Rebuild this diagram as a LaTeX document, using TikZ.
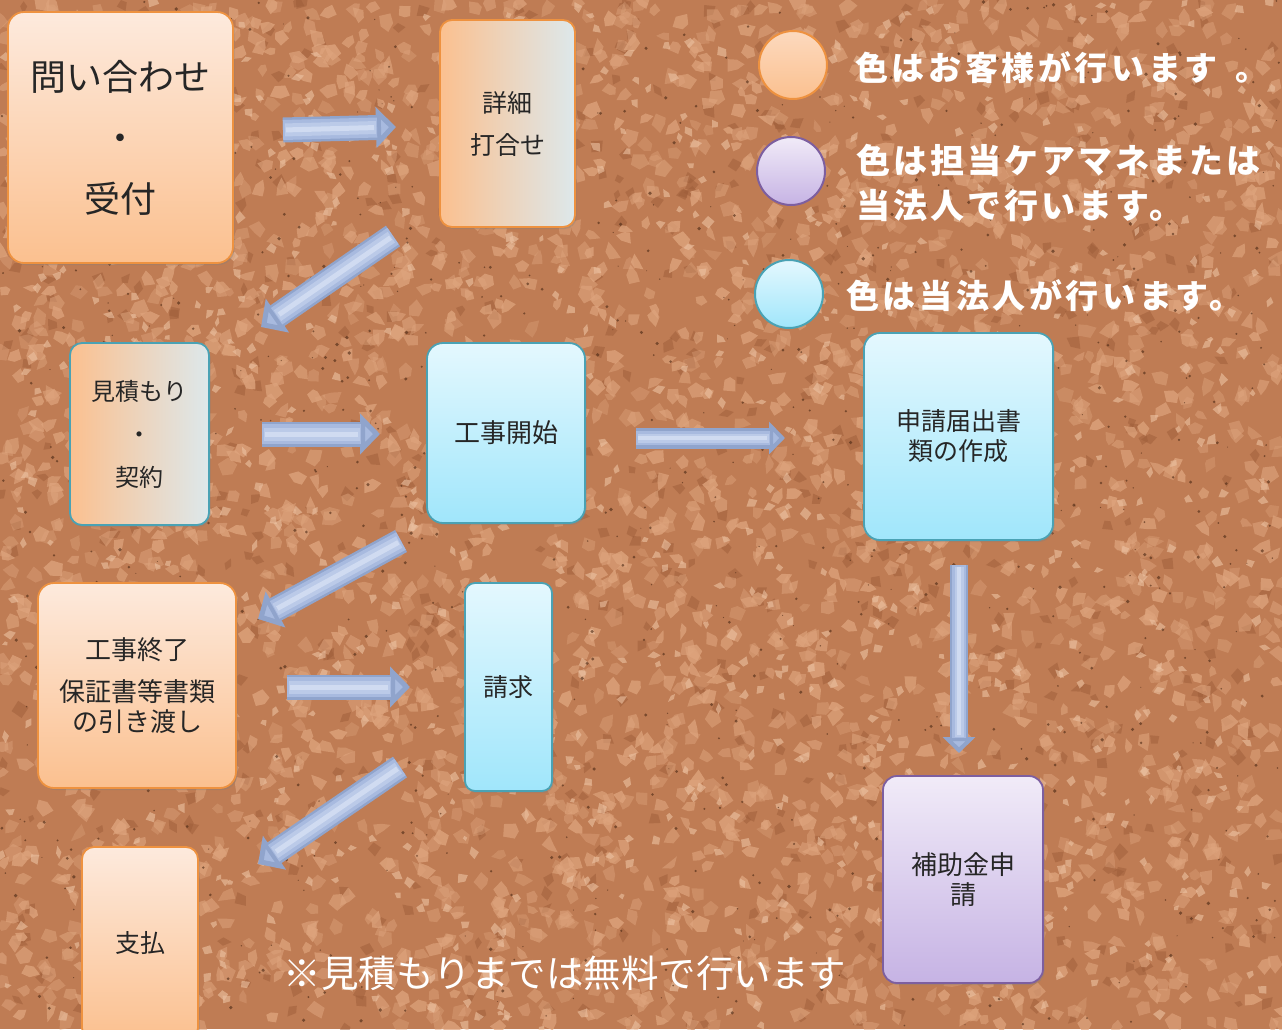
\documentclass[tikz,border=0pt]{standalone}
\usepackage{fontspec}
\newfontfamily\jp{Noto Sans CJK JP}
\usetikzlibrary{arrows.meta,shadows}
\definecolor{cork}{HTML}{BF7C54}
\definecolor{corkdk}{HTML}{9E5E3A}
\definecolor{corklt}{HTML}{DEA47D}
\definecolor{corkvl}{HTML}{ECC2A2}
\definecolor{speck}{HTML}{4A2814}
\definecolor{otop}{HTML}{FDEADD}
\definecolor{obot}{HTML}{FBC08F}
\definecolor{obord}{HTML}{EE9240}
\definecolor{ctop}{HTML}{E4F8FE}
\definecolor{cbot}{HTML}{A0E6FB}
\definecolor{cbord}{HTML}{4AA2B4}
\definecolor{ptop}{HTML}{F1EBF8}
\definecolor{pbot}{HTML}{C6B3E4}
\definecolor{pbord}{HTML}{7D5FA0}
\definecolor{mixr}{HTML}{DDE8EB}
\definecolor{arrdark}{HTML}{90A4CC}
\definecolor{arrmid}{HTML}{A8BADF}
\definecolor{arrmid2}{HTML}{BBCAE8}
\definecolor{arrlight}{HTML}{D0DBF1}
\tikzset{
  box/.style={rounded corners=16pt, line width=1.8pt, inner sep=0pt, align=center, text=black!85,
    drop shadow={shadow xshift=1.5pt, shadow yshift=-2pt, opacity=.35}},
  orangebox/.style={box, draw=obord, top color=otop, bottom color=obot},
  cyanbox/.style={box, draw=cbord, top color=ctop, bottom color=cbot},
  purplebox/.style={box, draw=pbord, top color=ptop, bottom color=pbot},
  legdot/.style={circle, minimum size=68pt, inner sep=0pt, line width=2pt},
  legtext/.style={anchor=west, text=white, font=\jp\bfseries\fontsize{33}{45}\selectfont\addfontfeatures{LetterSpace=11}, align=left, inner sep=0pt},
  barrow/.style={line width=25pt, draw=arrdark, -{Triangle[length=20pt,width=40pt,color=arrdark,fill=arrmid]},
    postaction={draw=arrmid, line width=20pt, -, shorten >=19pt},
    postaction={draw=arrmid2, line width=13pt, -, shorten >=20pt, shorten <=2pt},
    postaction={draw=arrlight, line width=5pt, -, shorten >=22pt, shorten <=3pt}},
  barrowthin/.style={line width=18pt, draw=arrdark, -{Triangle[length=16pt,width=32pt,color=arrdark,fill=arrmid]},
    postaction={draw=arrmid, line width=14pt, -, shorten >=15pt},
    postaction={draw=arrmid2, line width=9pt, -, shorten >=16pt, shorten <=2pt},
    postaction={draw=arrlight, line width=3.5pt, -, shorten >=18pt, shorten <=2pt}}
}
\begin{document}
\begin{tikzpicture}[x=1pt,y=-1pt]
\useasboundingbox (0,0) rectangle (1282,1029);
\clip (0,0) rectangle (1282,1029);
% cork background
\fill[cork] (0,0) rectangle (1282,1029);
\pgfmathsetseed{11}
\foreach \i in {1,...,700}{
  \pgfmathsetmacro\xx{rnd*1282}
  \pgfmathsetmacro\yy{rnd*1029}
  \pgfmathsetmacro\ang{rnd*360}
  \pgfmathsetmacro\ra{3+rnd*6}
  \pgfmathsetmacro\rb{3+rnd*6}
  \pgfmathsetmacro\rc{3+rnd*6}
  \pgfmathsetmacro\rd{3+rnd*6}
  \fill[corkdk, opacity=0.5, shift={(\xx,\yy)}, rotate=\ang] (0:\ra) -- (90:\rb) -- (180:\rc) -- (270:\rd) -- cycle;
}
\foreach \i in {1,...,3000}{
  \pgfmathsetmacro\xx{rnd*1282}
  \pgfmathsetmacro\yy{rnd*1029}
  \pgfmathsetmacro\ang{rnd*360}
  \pgfmathsetmacro\ra{3+rnd*8}
  \pgfmathsetmacro\rb{3+rnd*8}
  \pgfmathsetmacro\rc{3+rnd*8}
  \pgfmathsetmacro\rd{3+rnd*8}
  \pgfmathsetmacro\re{3+rnd*8}
  \pgfmathsetmacro\op{0.35+rnd*0.45}
  \fill[corklt, opacity=\op, shift={(\xx,\yy)}, rotate=\ang] (0:\ra) -- (70:\rb) -- (145:\rc) -- (215:\rd) -- (290:\re) -- cycle;
}
\foreach \i in {1,...,900}{
  \pgfmathsetmacro\xx{rnd*1282}
  \pgfmathsetmacro\yy{rnd*1029}
  \pgfmathsetmacro\ang{rnd*360}
  \pgfmathsetmacro\ra{2+rnd*5}
  \pgfmathsetmacro\rb{2+rnd*5}
  \pgfmathsetmacro\rc{2+rnd*5}
  \pgfmathsetmacro\rd{2+rnd*5}
  \fill[corkvl, opacity=0.6, shift={(\xx,\yy)}, rotate=\ang] (0:\ra) -- (100:\rb) -- (190:\rc) -- (280:\rd) -- cycle;
}
\foreach \i in {1,...,900}{
  \pgfmathsetmacro\xx{rnd*1282}
  \pgfmathsetmacro\yy{rnd*1029}
  \pgfmathsetmacro\rr{0.5+rnd*1.4}
  \fill[speck, opacity=0.6] (\xx,\yy) circle [radius=\rr];
}

% boxes
\node[orangebox, minimum width=225pt, minimum height=251pt, font=\jp\fontsize{36}{61}\selectfont] (ask) at (120.5,137.5) {問い合わせ\\・\\受付};
\node[box, draw=obord, left color=obot, right color=mixr, rounded corners=12pt, minimum width=135pt, minimum height=207pt, font=\jp\fontsize{25}{42}\selectfont] (detail) at (507.5,123.5) {詳細\\打合せ};
\node[box, draw=cbord, left color=obot, right color=mixr, rounded corners=12pt, minimum width=139pt, minimum height=182pt, font=\jp\fontsize{24}{43}\selectfont] (est) at (139.5,434) {見積もり\\・\\契約};
\node[cyanbox, minimum width=158pt, minimum height=180pt, font=\jp\fontsize{26}{32}\selectfont] (start) at (506,433) {工事開始};
\node[cyanbox, minimum width=189pt, minimum height=207pt, font=\jp\fontsize{25}{30}\selectfont] (apply) at (958.5,436.5) {申請届出書\\類の作成};
\node[orangebox, minimum width=198pt, minimum height=205pt, font=\jp\fontsize{26}{30}\selectfont] (finish) at (137,685.5) {工事終了\\[12pt]保証書等書類\\の引き渡し};
\node[cyanbox, rounded corners=10pt, minimum width=87pt, minimum height=208pt, font=\jp\fontsize{25}{30}\selectfont] (bill) at (508.5,687) {請求};
\node[orangebox, rounded corners=12pt, minimum width=116pt, minimum height=193pt, font=\jp\fontsize{25}{30}\selectfont] (pay) at (140,943.5) {支払};
\node[purplebox, rounded corners=14pt, minimum width=160pt, minimum height=207pt, font=\jp\fontsize{26}{30}\selectfont] (subsidy) at (963,879.5) {補助金申\\請};

% legend
\node[legdot, draw=obord, top color=otop!60!obot, bottom color=obot] (dotO) at (793,65) {};
\node[legdot, draw=pbord, top color=ptop, bottom color=pbot] (dotP) at (791,171) {};
\node[legdot, draw=cbord, top color=ctop, bottom color=cbot] (dotC) at (789,294) {};
\node[legtext] (legO) at (855,68) {色はお客様が行います\hspace{18pt}。};
\node[legtext, font=\jp\bfseries\fontsize{34}{45}\selectfont\addfontfeatures{LetterSpace=9}] (legP) at (856,183) {色は担当ケアマネまたは\\当法人で行います。};
\node[legtext] (legC) at (846,296) {色は当法人が行います。};

% note
\node[text=white, font=\jp\fontsize{37.5}{40}\selectfont, inner sep=0pt] (note) at (565,973) {※見積もりまでは無料で行います};

% arrow end points
\coordinate (a1s) at (283,130); \coordinate (a1e) at (396,127);
\coordinate (a2s) at (393,236); \coordinate (a2e) at (261,327);
\coordinate (a3s) at (262,434); \coordinate (a3e) at (380,434);
\coordinate (a4s) at (636,438); \coordinate (a4e) at (785,438);
\coordinate (a5s) at (401,541); \coordinate (a5e) at (258,619);
\coordinate (a6s) at (287,687); \coordinate (a6e) at (410,687);
\coordinate (a7s) at (400,767); \coordinate (a7e) at (258,864);
\coordinate (a8s) at (959,565); \coordinate (a8e) at (959,753);

\draw[barrow] (a1s) -- (a1e);
\draw[barrow] (a2s) -- (a2e);
\draw[barrow] (a3s) -- (a3e);
\draw[barrowthin, line width=21pt] (a4s) -- (a4e);
\draw[barrow] (a5s) -- (a5e);
\draw[barrow] (a6s) -- (a6e);
\draw[barrow] (a7s) -- (a7e);
\draw[barrowthin] (a8s) -- (a8e);
\end{tikzpicture}
\end{document}
